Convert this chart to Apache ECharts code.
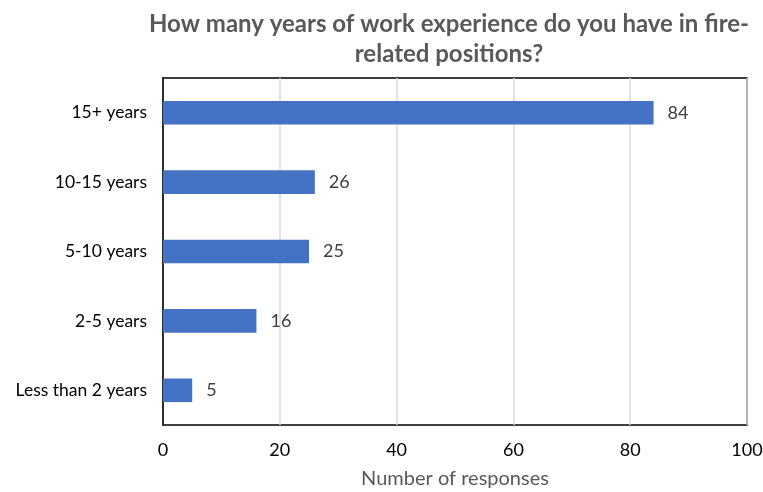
<!DOCTYPE html>
<html>
<head>
<meta charset="utf-8">
<script src="https://cdn.jsdelivr.net/npm/echarts@6/dist/echarts.min.js"></script>
<style>
  html, body { margin: 0; padding: 0; background: #fff; }
  #chart { width: 763px; height: 492px; }
</style>
</head>
<body>
<div id="chart"></div>
<script>
// Survey: years of experience in fire-related positions
const categories = ['Less than 2 years', '2-5 years', '5-10 years', '10-15 years', '15+ years'];
const responses = [5, 16, 25, 26, 84];
const xTicks = [0, 20, 40, 60, 80, 100];

const font = 'Lato, "Noto Sans", sans-serif';
const chart = echarts.init(document.getElementById('chart'), null, { renderer: 'canvas' });

chart.setOption({
  animation: false,
  backgroundColor: '#fff',
  title: {
    text: 'How many years of work experience do you have in fire-\nrelated positions?',
    left: 444,
    top: 4,
    textAlign: 'center',
    textStyle: {
      fontFamily: font,
      fontWeight: 'bold',
      fontSize: 24,
      color: '#595959',
      lineHeight: 30
    }
  },
  grid: {
    left: 163, right: 16, top: 78, bottom: 67,
    show: true, borderColor: '#000', borderWidth: 1.5,
    containLabel: false,
    outerBoundsMode: 'none'
  },
  xAxis: {
    type: 'value',
    min: xTicks[0], max: xTicks[xTicks.length - 1], interval: 20,
    name: 'Number of responses',
    nameLocation: 'middle',
    nameGap: 44,
    nameTextStyle: { fontFamily: font, fontSize: 20, color: '#595959' },
    axisLine: { show: false },
    axisTick: { show: false },
    axisLabel: { fontFamily: font, fontSize: 18, color: '#000', margin: 16 },
    splitLine: { show: true, lineStyle: { color: '#d9d9d9', width: 1.5 } }
  },
  yAxis: {
    type: 'category',
    data: categories,
    axisLine: { show: true, lineStyle: { color: '#000', width: 1.5 } },
    axisTick: { show: false },
    axisLabel: { fontFamily: font, fontSize: 17.5, color: '#000', margin: 16 }
  },
  series: [{
    type: 'bar',
    data: responses,
    barWidth: '34%',
    itemStyle: { color: '#4472c4' },
    label: {
      show: true,
      position: 'right',
      distance: 14,
      fontFamily: font,
      fontSize: 18,
      color: '#404040'
    }
  }]
});
</script>
</body>
</html>
